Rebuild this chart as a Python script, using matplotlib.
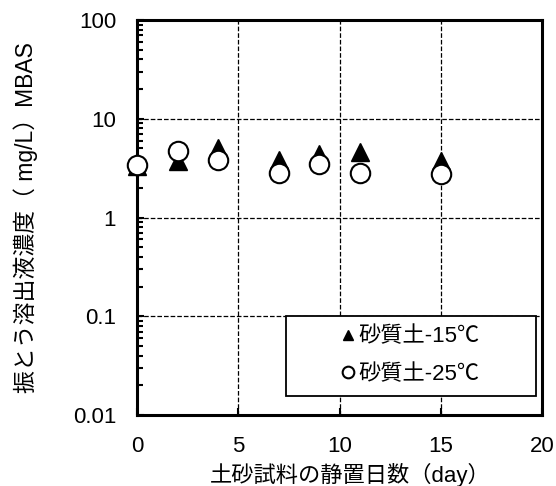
import matplotlib.pyplot as plt
from matplotlib.patches import Rectangle
import numpy as np

plt.rcParams['font.family'] = ['Liberation Sans', 'Noto Sans CJK JP']

# data
days_15 = [0, 2, 4, 7, 9, 11, 15]
mbas_15 = [3.35, 3.7, 5.1, 3.85, 4.4, 4.6, 3.7]
days_25 = [0, 2, 4, 7, 9, 11, 15]
mbas_25 = [3.4, 4.7, 3.85, 2.85, 3.5, 2.8, 2.77]

fig = plt.figure(figsize=(5.56, 4.86), dpi=100)
ax = fig.add_axes([137/556, 1 - 415/486, 405/556, 395/486])

ax.plot(days_15, mbas_15, linestyle='none', marker='^', markersize=13,
        color='black', label='砂質土-15℃', zorder=3, clip_on=False)
ax.plot(days_25, mbas_25, linestyle='none', marker='o', markersize=14,
        markerfacecolor='white', markeredgecolor='black', markeredgewidth=1.5,
        label='砂質土-25℃', zorder=4, clip_on=False)

ax.set_yscale('log')
ax.set_ylim(0.01, 100)
ax.set_xlim(0, 20)
ax.set_xticks([0, 5, 10, 15, 20])
ax.set_yticks([0.01, 0.1, 1, 10, 100])
ax.set_yticklabels(['0.01', '0.1', '1', '10', '100'])

ax.grid(True, which='major', linestyle='--', color='black', linewidth=0.9)
ax.tick_params(which='both', direction='in', labelsize=16, width=1.5)
ax.tick_params(which='major', length=5)
ax.tick_params(which='minor', length=4)
ax.tick_params(axis='x', pad=15)
ax.tick_params(axis='y', pad=15)
for s in ax.spines.values():
    s.set_linewidth(2.2)

ax.set_xlabel('土砂試料の静置日数（day）', fontsize=16)
ax.xaxis.set_label_coords(0.527, -0.122)
ax.set_ylabel('振とう溶出液濃度（ mg/L）MBAS', fontsize=16.5)
ax.yaxis.set_label_coords(-0.245, 0.5)

# legend box drawn separately so the entries sit centred in a wide frame
ax.add_patch(Rectangle((0.368, 0.048), 0.617, 0.203, transform=ax.transAxes,
                       facecolor='white', edgecolor='black', linewidth=1.3,
                       zorder=5))
leg = ax.legend(loc='center', bbox_to_anchor=(0.676, 0.15), frameon=False,
                fontsize=16, markerscale=0.6, handlelength=0.6,
                handletextpad=0.15, borderpad=0, labelspacing=0.75)
leg.set_zorder(6)

fig.savefig('out.png', dpi=100)
